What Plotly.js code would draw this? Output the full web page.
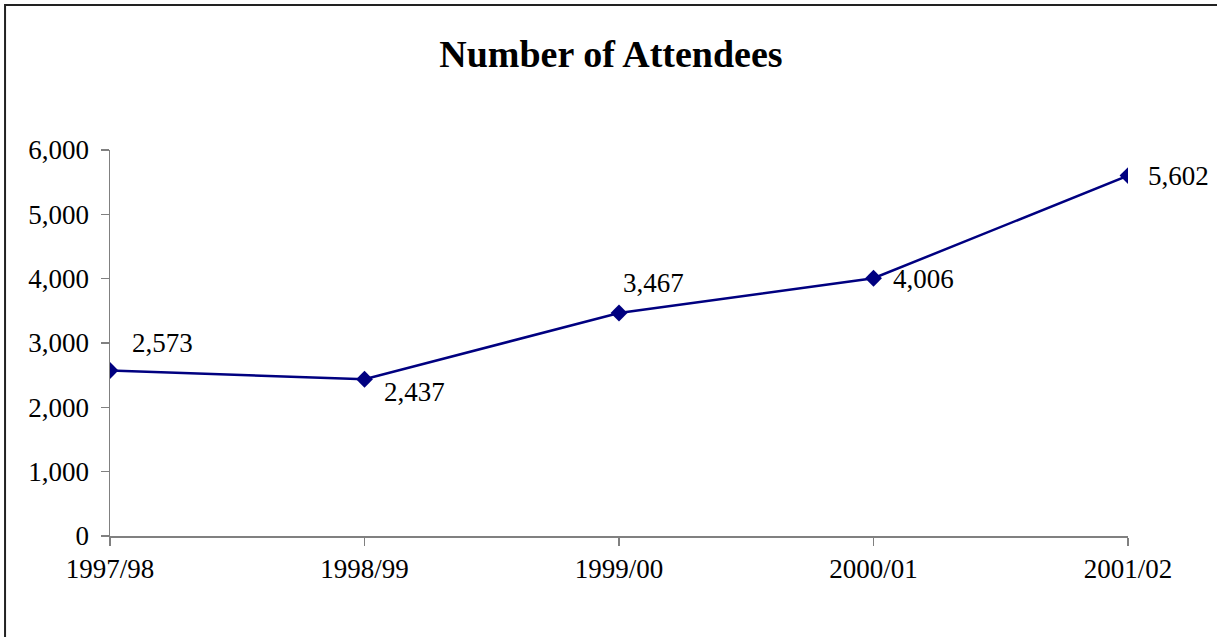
<!DOCTYPE html>
<html>
<head>
<meta charset="utf-8">
<script src="https://cdn.plot.ly/plotly-3.0.1.min.js"></script>
<style>
  html, body { margin: 0; padding: 0; background: #fff; }
  #chart { width: 1217px; height: 637px; }
</style>
</head>
<body>
<div id="chart"></div>
<script>
const categories = ["1997/98", "1998/99", "1999/00", "2000/01", "2001/02"];
const attendees = [2573, 2437, 3467, 4006, 5602];
const yTickValues = [0, 1000, 2000, 3000, 4000, 5000, 6000];
const yTickLabels = ["0", "1,000", "2,000", "3,000", "4,000", "5,000", "6,000"];
const labelXShift = [20, 17, 2, 17, 18];
const labelYShift = [27, -13, 30, -1, 0];

const fmt = v => v.toLocaleString("en-US");
const serif = "Liberation Serif, Times New Roman, serif";

const trace = {
  x: categories,
  y: attendees,
  type: "scatter",
  mode: "lines+markers",
  line: { color: "#000080", width: 2.5 },
  marker: { symbol: "diamond", size: 13, color: "#000080" },
  hoverinfo: "x+y"
};

const annotations = categories.map((c, i) => ({
  x: c, y: attendees[i], xref: "x", yref: "y",
  text: fmt(attendees[i]), showarrow: false,
  xanchor: "left", yanchor: "middle",
  xshift: labelXShift[i], yshift: labelYShift[i],
  font: { family: serif, size: 27, color: "#000" }
}));

const layout = {
  width: 1217, height: 637,
  margin: { l: 110, r: 89, t: 150, b: 101 },
  paper_bgcolor: "#fff", plot_bgcolor: "#fff",
  showlegend: false,
  title: {
    text: "<b>Number of Attendees</b>",
    font: { family: serif, size: 38, color: "#000" },
    x: 0.502, xref: "container", xanchor: "center",
    y: 0.915, yref: "container", yanchor: "middle"
  },
  xaxis: {
    type: "category",
    range: [0, categories.length - 1],
    showgrid: false, zeroline: false,
    showline: true, linecolor: "#808080", linewidth: 1.5,
    ticks: "outside", ticklen: 8, tickcolor: "#808080", tickwidth: 1.5,
    tickfont: { family: serif, size: 27, color: "#000" },
    fixedrange: true
  },
  yaxis: {
    range: [0, 6000],
    tickvals: yTickValues, ticktext: yTickLabels,
    showgrid: false, zeroline: false,
    showline: true, linecolor: "#808080", linewidth: 1.5,
    ticks: "outside", ticklen: 8, tickcolor: "#808080", tickwidth: 1.5,
    ticklabelstandoff: 6,
    tickfont: { family: serif, size: 27, color: "#000" },
    fixedrange: true
  },
  annotations: annotations,
  shapes: [{
    type: "rect", xref: "paper", yref: "paper",
    x0: -0.1031, x1: 1.3, y0: -0.6, y1: 1.3756,
    line: { color: "#222", width: 2 }, fillcolor: "rgba(0,0,0,0)", layer: "below"
  }]
};

Plotly.newPlot("chart", [trace], layout, { displayModeBar: false, staticPlot: true });
</script>
</body>
</html>
